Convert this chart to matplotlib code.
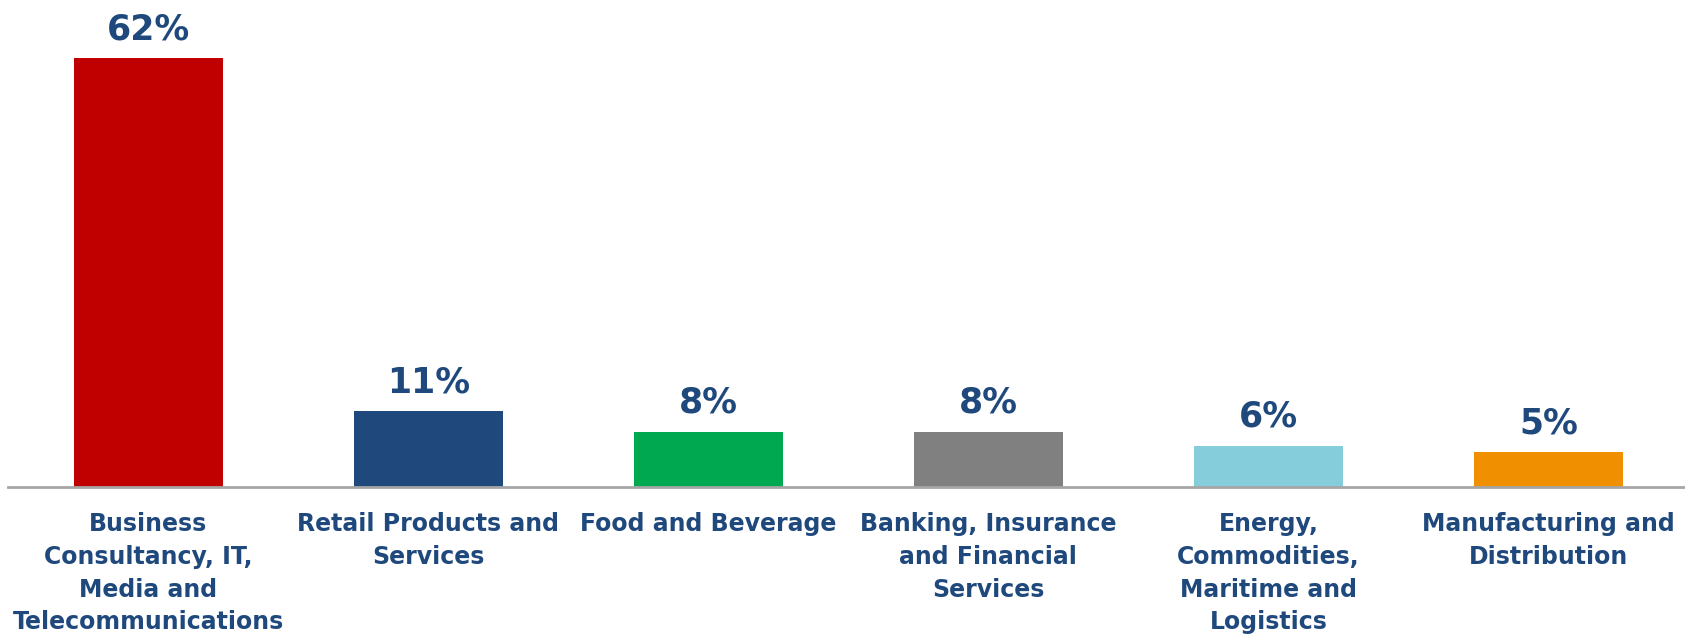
import matplotlib.pyplot as plt

# sector share of respondents
categories = [
    "Business\nConsultancy, IT,\nMedia and\nTelecommunications",
    "Retail Products and\nServices",
    "Food and Beverage",
    "Banking, Insurance\nand Financial\nServices",
    "Energy,\nCommodities,\nMaritime and\nLogistics",
    "Manufacturing and\nDistribution",
]
shares = [62, 11, 8, 8, 6, 5]
bar_colors = ["#C00000", "#1F497D", "#00A94F", "#808080", "#86CDDC", "#F09000"]

TEXT_COLOR = "#1F497D"

fig = plt.figure(figsize=(16.85, 6.35), dpi=100)
ax = fig.add_axes([0.005, 0.233, 0.997, 0.767])

x = range(len(categories))
bars = ax.bar(x, shares, width=0.53, color=bar_colors)

for rect, val in zip(bars, shares):
    ax.annotate(f"{val}%", (rect.get_x() + rect.get_width() / 2, rect.get_height()),
                xytext=(0, 13.5), textcoords="offset points",
                ha="center", va="baseline", fontsize=25, fontweight="bold",
                color=TEXT_COLOR)

ax.set_xlim(-0.5, len(categories) - 0.5)
ax.set_ylim(0, 70.4)
ax.set_xticks(list(x))
ax.set_xticklabels(categories, fontsize=17, fontweight="bold", color=TEXT_COLOR,
                   linespacing=1.46)
ax.tick_params(axis="x", length=0, pad=18)
ax.set_yticks([])

for side in ["top", "right", "left"]:
    ax.spines[side].set_visible(False)
ax.spines["bottom"].set_color("#A6A6A6")
ax.spines["bottom"].set_linewidth(2)

fig.savefig("out.png", dpi=100)
